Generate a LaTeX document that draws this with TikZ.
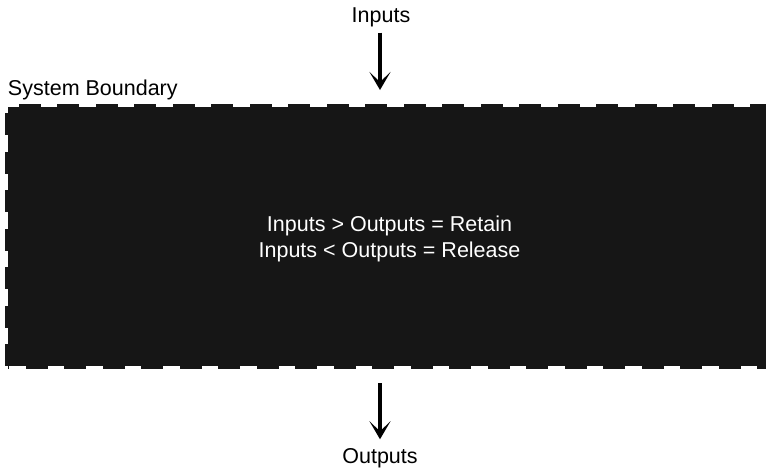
\documentclass[tikz,border=0pt]{standalone}
\usepackage{fontspec}
\setmainfont{Liberation Sans}
\usetikzlibrary{arrows.meta}
\definecolor{boxfill}{HTML}{161616}
\tikzset{
  lbl/.style={inner sep=0pt, outer sep=0pt, font=\fontsize{21.5}{26.5}\selectfont, text=black},
  sysbox/.style={rectangle, inner sep=0pt, outer sep=0pt, fill=boxfill, draw=boxfill,
    line width=6pt, dash pattern=on 22pt off 16.5pt, dash phase=21pt},
  rule/.style={lbl, text=white, align=center},
  flow/.style={line width=4pt, -{Stealth[length=18pt, width=21pt, inset=10pt]}}
}
\begin{document}
\begin{tikzpicture}[x=1pt, y=-1pt]
  \useasboundingbox (0,0) rectangle (766,472);
  \begin{scope}
    \clip (0,0) rectangle (766,472);
    % the system: a filled box with a dashed border, running off the right edge
    \node[sysbox, minimum width=781pt, minimum height=259pt] (sys) at (398.5,236.5) {};
  \end{scope}
  \node[rule] (balance) at (389.5,238.7)
    {Inputs > Outputs = Retain\\Inputs < Outputs = Release};
  \node[lbl, anchor=base west] (bnd) at (8,95) {System Boundary};
  \node[lbl] (in) at (381,17) {Inputs};
  \node[lbl] (out) at (380,458) {Outputs};
  \draw[flow, shorten <=6pt, shorten >=17pt] (in.south -| 380,0) -- (sys.north -| 380,0);
  \draw[flow, shorten <=17pt, shorten >=9pt] (sys.south -| 380,0) -- (out.north -| 380,0);
\end{tikzpicture}
\end{document}
